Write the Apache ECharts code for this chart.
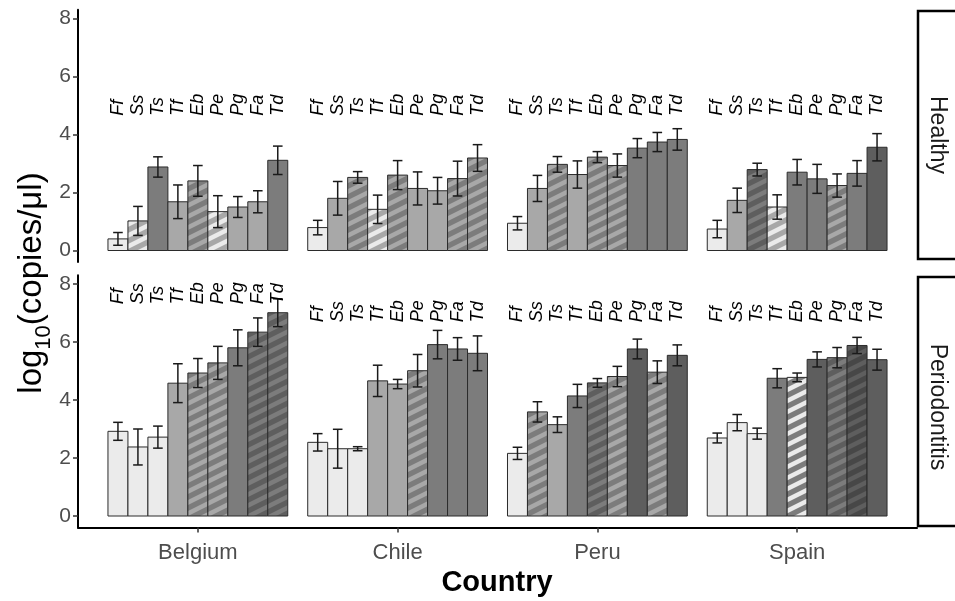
<!DOCTYPE html>
<html>
<head>
<meta charset="utf-8">
<script src="https://cdn.jsdelivr.net/npm/echarts@6/dist/echarts.min.js"></script>
<style>
html, body { margin: 0; padding: 0; background: #ffffff; }
#chart { width: 955px; height: 601px; }
</style>
</head>
<body>
<div id="chart"></div>
<script>
const countries = ['Belgium', 'Chile', 'Peru', 'Spain'];
const species = ['Ff', 'Ss', 'Ts', 'Tf', 'Eb', 'Pe', 'Pg', 'Fa', 'Td'];
const yTicks = [0, 2, 4, 6, 8];
const countryTicks = [1, 2, 3, 4];

// Healthy subjects: mean log10(copies/µl) per species, one row per country
const healthyMean = [
  [0.40, 1.02, 2.88, 1.68, 2.40, 1.34, 1.50, 1.68, 3.11],
  [0.79, 1.80, 2.52, 1.42, 2.60, 2.14, 2.06, 2.48, 3.19],
  [0.94, 2.14, 2.97, 2.62, 3.22, 2.93, 3.53, 3.74, 3.83],
  [0.74, 1.73, 2.79, 1.50, 2.70, 2.47, 2.24, 2.66, 3.56]
];
const healthySE = [
  [0.22, 0.50, 0.35, 0.58, 0.53, 0.55, 0.36, 0.38, 0.49],
  [0.25, 0.58, 0.20, 0.49, 0.50, 0.57, 0.46, 0.60, 0.46],
  [0.23, 0.45, 0.27, 0.47, 0.19, 0.40, 0.33, 0.33, 0.37],
  [0.30, 0.42, 0.22, 0.42, 0.44, 0.50, 0.40, 0.44, 0.47]
];
// Periodontitis patients
const perioMean = [
  [2.92, 2.38, 2.72, 4.58, 4.93, 5.28, 5.80, 6.34, 7.01],
  [2.54, 2.32, 2.32, 4.66, 4.55, 5.01, 5.91, 5.76, 5.61],
  [2.16, 3.59, 3.15, 4.14, 4.59, 4.81, 5.76, 4.96, 5.54],
  [2.69, 3.22, 2.84, 4.75, 4.78, 5.40, 5.46, 5.88, 5.39]
];
const perioSE = [
  [0.31, 0.62, 0.38, 0.67, 0.50, 0.57, 0.62, 0.49, 0.48],
  [0.30, 0.67, 0.07, 0.54, 0.16, 0.56, 0.49, 0.39, 0.60],
  [0.21, 0.35, 0.27, 0.40, 0.15, 0.35, 0.34, 0.39, 0.36],
  [0.17, 0.28, 0.19, 0.33, 0.15, 0.26, 0.35, 0.28, 0.36]
];
// Abundance class of each bar (1 = lowest) ...
const healthyClass = [
  [1, 2, 3, 2, 3, 2, 2, 2, 3],
  [1, 2, 3, 2, 3, 2, 2, 3, 3],
  [1, 2, 3, 2, 3, 3, 3, 3, 3],
  [1, 2, 4, 2, 3, 3, 3, 3, 4]
];
const perioClass = [
  [1, 1, 1, 2, 3, 3, 3, 4, 4],
  [1, 1, 1, 2, 2, 3, 3, 3, 3],
  [1, 3, 2, 3, 4, 3, 4, 3, 4],
  [1, 1, 1, 3, 3, 4, 4, 5, 4]
];
// ... and the class shown by its stripes (0 = solid bar)
const healthyStripe = [
  [0, 1, 0, 0, 2, 1, 0, 0, 0],
  [0, 0, 2, 1, 2, 0, 0, 2, 2],
  [0, 0, 2, 0, 2, 2, 0, 0, 0],
  [0, 0, 3, 1, 0, 0, 2, 0, 0]
];
const perioStripe = [
  [0, 0, 0, 0, 2, 2, 0, 3, 3],
  [0, 0, 0, 0, 0, 2, 0, 0, 0],
  [0, 2, 0, 0, 3, 2, 0, 2, 0],
  [0, 0, 0, 0, 1, 0, 3, 4, 0]
];

// ---- styling ----
const classFill = ['#ffffff', '#ebebeb', '#a8a8a8', '#7c7c7c', '#5e5e5e', '#474747'];
const FONT = '"Liberation Sans", Arial, Helvetica, sans-serif';

function hexRgb(h) {
  return [parseInt(h.slice(1, 3), 16), parseInt(h.slice(3, 5), 16), parseInt(h.slice(5, 7), 16)];
}

// Diagonal stripe tile: base colour with stripes in a second class colour
const patternCache = {};
function stripePattern(cls, stripeCls) {
  const key = cls + '_' + stripeCls;
  if (patternCache[key]) return patternCache[key];
  const W = 22, H = 11, SS = 4;
  const cv = document.createElement('canvas');
  cv.width = W; cv.height = H;
  const ctx = cv.getContext('2d');
  const img = ctx.createImageData(W, H);
  const b = hexRgb(classFill[cls]);
  const s = hexRgb(classFill[stripeCls]);
  for (let y = 0; y < H; y++) {
    for (let x = 0; x < W; x++) {
      let cov = 0;
      for (let j = 0; j < SS; j++) {
        for (let i = 0; i < SS; i++) {
          const xx = x + (i + 0.5) / SS, yy = y + (j + 0.5) / SS;
          const ph = ((yy + xx * H / W) % H + H) % H;
          if (ph < H * 0.45) cov++;
        }
      }
      const t = cov / (SS * SS);
      const o = (y * W + x) * 4;
      for (let c = 0; c < 3; c++) img.data[o + c] = Math.round(b[c] * (1 - t) + s[c] * t);
      img.data[o + 3] = 255;
    }
  }
  ctx.putImageData(img, 0, 0);
  patternCache[key] = { image: cv, repeat: 'repeat' };
  return patternCache[key];
}

const DODGE = 0.9;

function renderBar(params, api) {
  const cx = api.value(0), k = api.value(1), m = api.value(2), se = api.value(3);
  const cls = api.value(4), stripe = api.value(5), labY = api.value(6);
  const w = DODGE / 9;
  const xl = cx - DODGE / 2 + k * w;
  const pA = api.coord([xl, 0]);
  const pB = api.coord([xl + w, m]);
  const xc = (pA[0] + pB[0]) / 2;
  const yHi = api.coord([xl + w / 2, m + se])[1];
  const yLo = api.coord([xl + w / 2, m - se])[1];
  const yLab = api.coord([xl + w / 2, labY])[1];
  const cap = 4.8;
  const errStyle = { stroke: '#1a1a1a', lineWidth: 1.5 };
  return {
    type: 'group',
    children: [
      {
        type: 'rect',
        shape: { x: pA[0], y: pB[1], width: pB[0] - pA[0], height: pA[1] - pB[1] },
        style: { fill: stripe ? stripePattern(cls, stripe) : classFill[cls], stroke: '#2b2b2b', lineWidth: 1 }
      },
      { type: 'line', shape: { x1: xc, y1: yHi, x2: xc, y2: yLo }, style: errStyle },
      { type: 'line', shape: { x1: xc - cap, y1: yHi, x2: xc + cap, y2: yHi }, style: errStyle },
      { type: 'line', shape: { x1: xc - cap, y1: yLo, x2: xc + cap, y2: yLo }, style: errStyle },
      {
        type: 'text', x: xc, y: yLab, rotation: Math.PI / 2,
        style: {
          text: species[k], font: 'italic 18px ' + FONT, fill: '#000000',
          textAlign: 'left', textVerticalAlign: 'middle', align: 'left', verticalAlign: 'middle'
        }
      }
    ]
  };
}

function buildSeries(idx, means, ses, classes, stripes, labelLevels) {
  const data = [];
  for (let c = 0; c < countries.length; c++) {
    for (let k = 0; k < species.length; k++) {
      data.push([c + 1, k, means[c][k], ses[c][k], classes[c][k], stripes[c][k], labelLevels[c]]);
    }
  }
  return {
    type: 'custom', xAxisIndex: idx, yAxisIndex: idx, silent: true, clip: false,
    encode: { x: 0, y: 2 }, renderItem: renderBar, data: data
  };
}

// height (in axis units) where the species names start in each panel
const healthyLabelLevel = [4.65, 4.65, 4.65, 4.65];
const perioLabelLevel = [7.3, 6.68, 6.68, 6.68];

const GRID_LEFT = 78, GRID_W = 839, GRID_H = 252.3;

function yAxisDef(idx) {
  return {
    gridIndex: idx, type: 'value', min: -0.4, max: 8.3,
    axisLine: { show: true, onZero: false, lineStyle: { color: '#000000', width: 2 } },
    axisTick: { show: true, customValues: yTicks, length: 5, lineStyle: { color: '#333333', width: 1.5 } },
    axisLabel: { customValues: yTicks, color: '#4d4d4d', fontSize: 21, fontFamily: FONT, margin: 7 },
    splitLine: { show: false }
  };
}

const chart = echarts.init(document.getElementById('chart'), null, { renderer: 'canvas' });
chart.setOption({
  animation: false,
  backgroundColor: '#ffffff',
  grid: [
    { left: GRID_LEFT, top: 9.8, width: GRID_W, height: GRID_H },
    { left: GRID_LEFT, top: 275.3, width: GRID_W, height: GRID_H }
  ],
  xAxis: [
    {
      gridIndex: 0, type: 'value', min: 0.4, max: 4.6,
      axisLine: { show: false, onZero: false }, axisTick: { show: false },
      axisLabel: { show: false }, splitLine: { show: false }
    },
    {
      gridIndex: 1, type: 'value', min: 0.4, max: 4.6,
      axisLine: { show: true, onZero: false, lineStyle: { color: '#000000', width: 2 } },
      axisTick: { show: true, customValues: countryTicks, length: 5, lineStyle: { color: '#333333', width: 1.5 } },
      axisLabel: {
        customValues: countryTicks, color: '#4d4d4d', fontSize: 22, fontFamily: FONT, margin: 14,
        formatter: v => countries[Math.round(v) - 1]
      },
      splitLine: { show: false }
    }
  ],
  yAxis: [yAxisDef(0), yAxisDef(1)],
  series: [
    buildSeries(0, healthyMean, healthySE, healthyClass, healthyStripe, healthyLabelLevel),
    buildSeries(1, perioMean, perioSE, perioClass, perioStripe, perioLabelLevel)
  ],
  graphic: [
    { type: 'rect', shape: { x: 918, y: 11, width: 60, height: 248 }, style: { fill: '#ffffff', stroke: '#000000', lineWidth: 2.5 } },
    {
      type: 'text', x: 937, y: 135, rotation: -Math.PI / 2,
      style: { text: 'Healthy', font: '23px ' + FONT, fill: '#1a1a1a', textAlign: 'center', textVerticalAlign: 'middle', align: 'center', verticalAlign: 'middle' }
    },
    { type: 'rect', shape: { x: 918, y: 277, width: 60, height: 249 }, style: { fill: '#ffffff', stroke: '#000000', lineWidth: 2.5 } },
    {
      type: 'text', x: 937, y: 407, rotation: -Math.PI / 2,
      style: { text: 'Periodontitis', font: '23px ' + FONT, fill: '#1a1a1a', textAlign: 'center', textVerticalAlign: 'middle', align: 'center', verticalAlign: 'middle' }
    },
    {
      type: 'text', x: 29, y: 283, rotation: Math.PI / 2,
      style: {
        text: '{m|log}{s|10}{m|(copies/μl)}',
        align: 'center', verticalAlign: 'middle', textAlign: 'center', textVerticalAlign: 'middle',
        rich: {
          m: { font: '33px ' + FONT, fill: '#000000', verticalAlign: 'bottom', lineHeight: 38 },
          s: { font: '22px ' + FONT, fill: '#000000', verticalAlign: 'bottom', lineHeight: 38, padding: [0, 0, -7, 0] }
        }
      }
    },
    {
      type: 'text', x: 497, y: 583,
      style: { text: 'Country', font: 'bold 29px ' + FONT, fill: '#000000', textAlign: 'center', textVerticalAlign: 'middle', align: 'center', verticalAlign: 'middle' }
    }
  ]
});
</script>
</body>
</html>
